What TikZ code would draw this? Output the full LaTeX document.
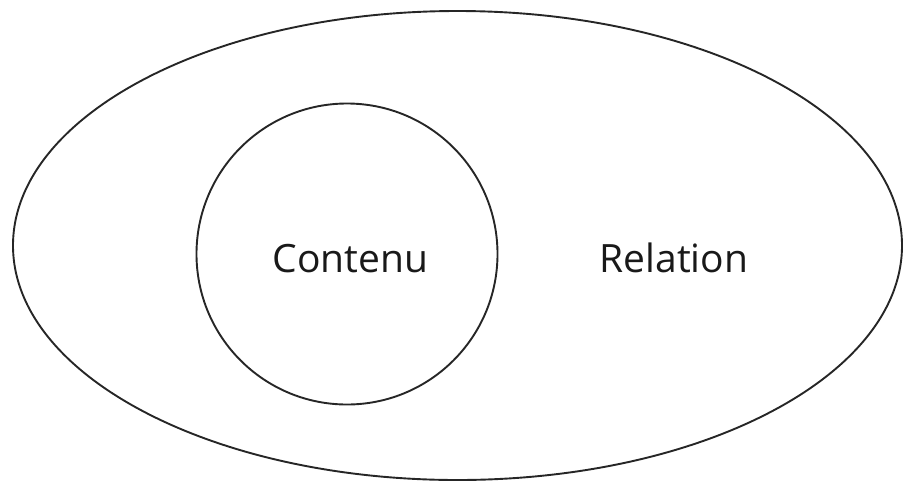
\documentclass[tikz,border=0pt]{standalone}
\usepackage{fontspec}
\setmainfont{Open Sans}
\usetikzlibrary{shapes.geometric}
\begin{document}
\begin{tikzpicture}[x=1pt,y=-1pt,
  outline/.style={draw=black!85, line width=1.9pt},
  label/.style={font=\fontsize{39}{46}\selectfont, text=black!90, inner sep=0pt}]
\useasboundingbox (0,0) rectangle (904,483);
\node[outline, ellipse, minimum width=889pt, minimum height=469pt, inner sep=0pt] (outer) at (457.5,245.5) {};
\node[outline, circle, minimum size=301pt, inner sep=0pt] (inner) at (347,254) {};
\node[label, anchor=base] (contenu) at (350.5,272) {Contenu};
\node[label, anchor=base] (relation) at (674,272) {Relation};
\end{tikzpicture}
\end{document}
